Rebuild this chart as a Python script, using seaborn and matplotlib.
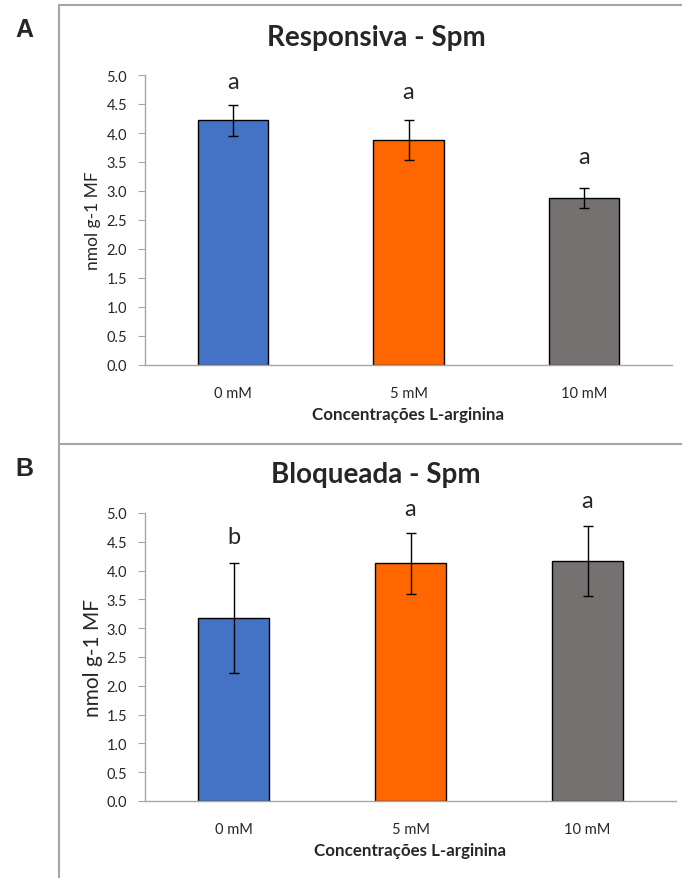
import matplotlib
matplotlib.use("Agg")
import matplotlib.pyplot as plt
import numpy as np
import pandas as pd
import seaborn as sns
from matplotlib.lines import Line2D

# dados
categorias = ['0 mM', '5 mM', '10 mM']
cores = ['#4472C4', '#FF6600', '#767171']

resp_media = [4.22, 3.88, 2.88]
resp_erro = [0.27, 0.34, 0.17]
resp_letras = ['a', 'a', 'a']
resp_pos_letras = [4.88, 4.71, 3.60]

bloq_media = [3.18, 4.13, 4.17]
bloq_erro = [0.95, 0.53, 0.61]
bloq_letras = ['b', 'a', 'a']
bloq_pos_letras = [4.59, 5.07, 5.21]

sns.set_style('white')
plt.rcParams['font.family'] = ['Lato', 'DejaVu Sans']

W, H = 682, 879
fig = plt.figure(figsize=(W / 100, H / 100), dpi=100)

cinza = '#A6A6A6'


def painel(rect, media, erro, letras, pos_letras, titulo, titulo_y, ylabel_size):
    ax = fig.add_axes(rect)
    df = pd.DataFrame({'conc': categorias, 'valor': media})
    sns.barplot(data=df, x='conc', y='valor', hue='conc', palette=cores, saturation=1,
                width=0.4, edgecolor='black', linewidth=1, legend=False, ax=ax)
    ax.errorbar(np.arange(len(categorias)), media, yerr=erro, fmt='none',
                ecolor='black', elinewidth=1, capsize=3.5, capthick=1)
    for i, (t, p) in enumerate(zip(letras, pos_letras)):
        ax.text(i, p, t, ha='center', va='center', fontsize=17)

    ax.set_ylim(0, 5)
    ax.set_xlim(-0.5, 2.5)
    ax.set_yticks(np.arange(0, 5.01, 0.5))
    ax.set_yticklabels([f'{v:.1f}' for v in np.arange(0, 5.01, 0.5)])
    ax.set_xticks([0, 1, 2])
    ax.set_xticklabels(categorias)
    ax.set_xticks([-0.5, 0.5, 1.5, 2.5], minor=True)
    ax.tick_params(axis='x', which='major', length=0, pad=15, labelsize=10.5)
    ax.tick_params(axis='x', which='minor', length=5, color=cinza, direction='out')
    ax.tick_params(axis='y', length=5, color=cinza, direction='out', pad=8, labelsize=10.5,
                   left=True)
    for s in ['top', 'right']:
        ax.spines[s].set_visible(False)
    for s in ['left', 'bottom']:
        ax.spines[s].set_color(cinza)
        ax.spines[s].set_linewidth(1)

    ax.set_xlabel('Concentrações L-arginina', fontsize=12.2, fontweight='bold')
    ax.xaxis.label.set_va('center')
    alt = rect[3] * H
    ax.xaxis.set_label_coords(0.5, -49 / alt)
    ax.set_ylabel('nmol g-1 MF', fontsize=ylabel_size)
    ax.yaxis.label.set_va('center')
    ax.yaxis.set_label_coords(-52 / (rect[2] * W), 0.5)

    fig.text(376 / W, 1 - titulo_y / H, titulo, ha='center', va='center',
             fontsize=20, fontweight='bold')
    return ax


painel([145 / W, 1 - 366 / H, 527 / W, 290 / H], resp_media, resp_erro,
       resp_letras, resp_pos_letras, 'Responsiva - Spm', 38, 12.5)
painel([145 / W, 1 - 802 / H, 531 / W, 288 / H], bloq_media, bloq_erro,
       bloq_letras, bloq_pos_letras, 'Bloqueada - Spm', 475, 15)

# letras dos painéis
fig.text(24 / W, 1 - 30 / H, 'A', ha='center', va='center', fontsize=18,
         fontweight='bold', family=['Liberation Sans', 'DejaVu Sans'])
fig.text(24 / W, 1 - 469 / H, 'B', ha='center', va='center', fontsize=18,
         fontweight='bold', family=['Liberation Sans', 'DejaVu Sans'])

# bordas cinzas
x0 = 59 / W
fig.add_artist(Line2D([x0, x0], [0, 1 - 6 / H], color=cinza, lw=1.5))
fig.add_artist(Line2D([x0, 1], [1 - 6 / H, 1 - 6 / H], color=cinza, lw=1.5))
fig.add_artist(Line2D([x0, 1], [1 - 445 / H, 1 - 445 / H], color=cinza, lw=1.5))

fig.savefig('out.png', dpi=100)
